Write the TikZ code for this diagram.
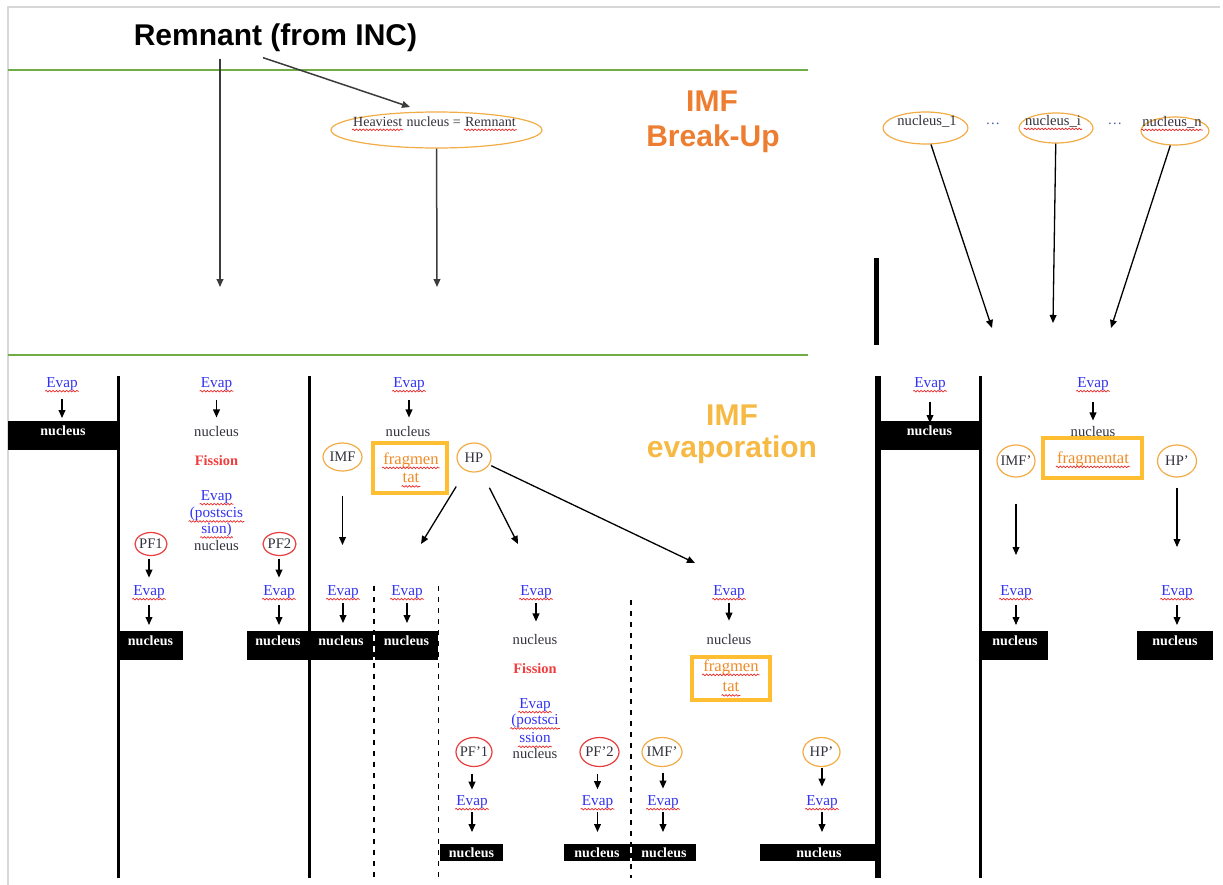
\documentclass[tikz,border=0pt]{standalone}
\usepackage{fontspec}
\setmainfont{Liberation Serif}
\newfontfamily\headfont{Liberation Sans}
\usetikzlibrary{arrows.meta,shapes.geometric,decorations.pathmorphing,shadows}
\definecolor{framec}{RGB}{215,215,215}
\definecolor{grn}{RGB}{112,173,71}
\definecolor{orangeA}{RGB}{237,125,49}
\definecolor{goldA}{RGB}{245,185,68}
\definecolor{ellor}{RGB}{242,172,70}
\definecolor{ellred}{RGB}{232,62,62}
\definecolor{evblue}{RGB}{50,50,240}
\definecolor{sqred}{RGB}{235,40,40}
\definecolor{fisred}{RGB}{240,60,60}
\definecolor{txt}{RGB}{50,50,60}
\definecolor{fraggold}{RGB}{255,190,50}
\definecolor{fragtxt}{RGB}{240,140,40}
\definecolor{dotblue}{RGB}{70,90,160}
\definecolor{arrgray}{RGB}{60,60,60}
\tikzset{
  sm/.style={font=\fontsize{7.3}{8.6}\selectfont, inner sep=0.4pt, text=txt},
  wavyline/.style={draw=sqred, line width=0.35pt, decorate, decoration={snake, amplitude=0.4pt, segment length=1.7pt}},
  wavy/.style={append after command={([yshift=-1.9pt]\tikzlastnode.base west) edge[wavyline] ([yshift=-1.9pt]\tikzlastnode.base east)}},
  ev/.style={sm, text=evblue, font=\fontsize{7.6}{8.6}\selectfont, wavy},
  nuc/.style={sm},
  fis/.style={sm, text=fisred, font=\fontsize{7.2}{8.6}\selectfont\bfseries},
  nbox/.style={fill=black, text=white, anchor=north, inner xsep=0pt, inner ysep=1pt, text height=5.8pt, text depth=6.7pt, font=\fontsize{7}{8}\selectfont\bfseries},
  nboxs/.style={nbox, text height=5.3pt, text depth=1.2pt},
  oell/.style={ellipse, draw=ellor, line width=0.6pt, sm, inner sep=-1.2pt},
  rell/.style={ellipse, draw=ellred, line width=0.6pt, sm, inner sep=-1.2pt},
  fragbox/.style={draw=fraggold, line width=2pt, fill=white, drop shadow={shadow xshift=0.7pt, shadow yshift=-0.7pt, opacity=0.3}, inner sep=0pt},
  fragt/.style={sm, text=fragtxt, font=\fontsize{8.3}{9}\selectfont, wavy},
  title/.style={font=\headfont\bfseries\fontsize{15}{18}\selectfont, inner sep=0pt, anchor=base},
  arr/.style={-{Triangle[length=4pt,width=3.4pt]}, line width=0.65pt, draw=black},
  garr/.style={arr, draw=arrgray, line width=0.75pt},
  vbar/.style={line width=1.5pt, draw=black},
  dline/.style={line width=0.6pt, dash pattern=on 2.5pt off 3pt},
}
\begin{document}
\begin{tikzpicture}[x=0.5pt,y=-0.5pt]
\useasboundingbox (0,0) rectangle (1223,885);
\draw[framec, line width=0.6pt] (8,885) -- (8,7) -- (1220,7);
\draw[grn, line width=0.8pt] (8,70) -- (808,70);
\draw[grn, line width=0.8pt] (8,355) -- (808,355);

% titles
\node[title] (rem) at (275.5,45) {Remnant (from INC)};
\node[title, text=orangeA] (bu1) at (712,111) {IMF};
\node[title, text=orangeA] (bu2) at (713,146) {Break-Up};
\node[title, text=goldA] (ev1) at (732,425) {IMF};
\node[title, text=goldA] (ev2) at (732,457) {evaporation};

% heaviest nucleus
\node[ellipse, draw=ellor, line width=0.6pt, minimum width=105.5pt, minimum height=18pt, inner sep=0pt] (hn) at (436.5,130) {};
\node[sm, anchor=base west, font=\fontsize{7}{8}\selectfont, wavy] (hn1) at (352,126) {Heaviest};
\node[sm, anchor=base west, font=\fontsize{7}{8}\selectfont, inner xsep=1.4pt] (hn2) at (hn1.base east) {nucleus =};
\node[sm, anchor=base west, font=\fontsize{7}{8}\selectfont, wavy] (hn3) at (hn2.base east) {Remnant};
\coordinate (r1end) at (220,287);
\coordinate (hnin) at (410,107);
\coordinate (hnend) at (437,287);
\draw[garr] ([xshift=-27.75pt,yshift=-3.5pt]rem.south) -- (r1end);
\draw[garr] ([xshift=-6.25pt,yshift=-3pt]rem.south) -- (hnin);
\draw[garr] (hn) -- (hnend);

% right top ellipses
\node[oell, minimum width=42.5pt, minimum height=16pt] (n1) at (925.5,128) {};
\node[sm] (n1t) at (927,121) {nucleus\_1};
\node[oell, minimum width=37pt, minimum height=15pt] (ni) at (1056,128) {};
\node[sm, wavy] (nit) at (1053,121) {nucleus\_i};
\node[oell, minimum width=34pt, minimum height=14pt] (nn) at (1175,131) {};
\node[sm, wavy] (nnt) at (1172,122) {nucleus\_n};
\node[sm, text=dotblue] (d1) at (993,124) {\dots};
\node[sm, text=dotblue] (d2) at (1115,124) {\dots};
\coordinate (m1) at (992,328);
\coordinate (mi) at (1053,323);
\coordinate (mn) at (1111,328);
\draw[arr] (n1) -- (m1);
\draw[arr] (ni) -- (mi);
\draw[arr] (nn) -- (mn);
\draw[line width=2.6pt] (876.5,258) -- (876.5,345);

% ---- section 1
\node[ev] (e1) at (62,384) {Evap};
\node[nbox, minimum width=55pt] (b1) at (63,421) {nucleus};
\draw[arr, shorten <=3.8pt, shorten >=1.5pt] (e1) -- (e1 |- b1.north);

% ---- section 2
\node[ev] (e2) at (216.5,384) {Evap};
\node[nuc] (u2) at (216.5,431) {nucleus};
\draw[arr, shorten <=4pt, shorten >=3.6pt] (e2) -- (u2);
\node[fis] (f2) at (216.5,461) {Fission};
\node[ev] (e2b) at (216.5,497) {Evap};
\node[ev] (p2a) at (216.5,514) {(postscis};
\node[ev] (p2b) at (216.5,530) {sion)};
\node[nuc] (u2b) at (216.5,545) {nucleus};
\node[rell, minimum width=16pt, minimum height=11.5pt] (pf1) at (151,544) {PF1};
\node[rell, minimum width=16.5pt, minimum height=11.5pt] (pf2) at (279.5,544) {PF2};
\node[ev] (ep1) at (149,592) {Evap};
\node[ev] (ep2) at (279,592) {Evap};
\draw[arr, shorten <=1.2pt, shorten >=3.3pt] (pf1.south -| ep1) -- (ep1);
\draw[arr, shorten <=1.2pt, shorten >=3.3pt] (pf2.south -| ep2) -- (ep2);
\node[nbox, minimum width=32.5pt] (bp1) at (150.5,631) {nucleus};
\node[nbox, minimum width=31pt] (bp2) at (278,631) {nucleus};
\draw[arr, shorten <=2.7pt, shorten >=3pt] (ep1) -- (ep1 |- bp1.north);
\draw[arr, shorten <=2.7pt, shorten >=3pt] (ep2) -- (ep2 |- bp2.north);

% ---- section 3
\node[ev] (e3) at (409,384) {Evap};
\node[nuc] (u3) at (408,431) {nucleus};
\draw[arr, shorten <=4pt, shorten >=3.6pt] (e3) -- (e3 |- u3.north);
\node[oell, minimum width=19.5pt, minimum height=14pt] (imf) at (342.5,457) {IMF};
\node[fragbox, minimum width=37pt, minimum height=25pt] (fr1) at (410,468) {};
\node[fragt] (fr1a) at (411,460) {fragmen};
\node[fragt] (fr1b) at (411,478) {tat};
\node[oell, minimum width=17pt, minimum height=14.5pt] (hp) at (474,457.5) {HP};
\coordinate (imfend) at (342.5,545);
\coordinate (hpa) at (421,544);
\coordinate (hpb) at (518,544);
\coordinate (hpc) at (695,563);
\draw[arr, shorten <=12pt] (imf) -- (imfend);
\draw[arr, shorten <=9.2pt] (hp) -- (hpa);
\draw[arr, shorten <=9.2pt] (hp) -- (hpb);
\draw[arr, shorten <=1pt] (hp) -- (hpc);

\node[ev] (e3a) at (343,592) {Evap};
\node[nbox, minimum width=32pt] (b3a) at (341,631) {nucleus};
\node[ev] (e3b) at (407,592) {Evap};
\node[nbox, minimum width=31.5pt] (b3b) at (406.5,631) {nucleus};
\draw[arr, shorten <=1.8pt, shorten >=4pt] (e3a) -- (e3a |- b3a.north);
\draw[arr, shorten <=1.8pt, shorten >=4pt] (e3b) -- (e3b |- b3b.north);

\node[ev] (e3c) at (536,592) {Evap};
\node[nuc] (u3c) at (535,639) {nucleus};
\draw[arr, shorten <=1.8pt, shorten >=5.6pt] (e3c) -- (e3c |- u3c.north);
\node[fis] (f3c) at (535,669) {Fission};
\node[ev] (e3c2) at (535,705) {Evap};
\node[ev] (p3a) at (535,721) {(postsci};
\node[ev] (p3b) at (535,738) {ssion};
\node[nuc] (u3c2) at (535,753) {nucleus};
\node[rell, minimum width=18pt, minimum height=14.5pt] (pfp1) at (474,752) {PF’1};
\node[rell, minimum width=19.5pt, minimum height=14.5pt] (pfp2) at (599.5,752) {PF’2};
\node[ev] (epp1) at (472,802) {Evap};
\node[ev] (epp2) at (597.5,802) {Evap};
\draw[arr, shorten <=3.2pt, shorten >=2.3pt] (pfp1.south -| epp1) -- (epp1);
\draw[arr, shorten <=3.6pt, shorten >=2.5pt] (pfp2.south -| epp2) -- (epp2);
\node[nboxs, minimum width=31.5pt] (bpp1) at (471.5,844) {nucleus};
\node[nboxs, minimum width=33pt] (bpp2) at (597,844) {nucleus};
\draw[arr, shorten <=1.3pt, shorten >=6pt] (epp1) -- (epp1 |- bpp1.north);
\draw[arr, shorten <=1.3pt, shorten >=6pt] (epp2) -- (epp2 |- bpp2.north);

\node[ev] (e3d) at (729,592) {Evap};
\node[nuc] (u3d) at (729,639) {nucleus};
\draw[arr, shorten <=1.5pt, shorten >=6pt] (e3d) -- (u3d);
\node[fragbox, minimum width=39pt, minimum height=21.5pt] (fr2) at (731,678.5) {};
\node[fragt] (fr2a) at (731,667) {fragmen};
\node[fragt] (fr2b) at (731,687) {tat};
\node[oell, minimum width=20pt, minimum height=14.5pt] (imfp) at (662,752) {IMF’};
\node[oell, minimum width=18.5pt, minimum height=14.5pt] (hpp) at (821.5,752) {HP’};
\node[ev] (ei) at (663,802) {Evap};
\node[ev] (eh) at (822,802) {Evap};
\draw[arr, shorten <=2.8pt, shorten >=2.8pt] (imfp.south -| ei) -- (ei);
\draw[arr, shorten <=0.3pt, shorten >=3.8pt] (hpp.south -| eh) -- (eh);
\node[nboxs, minimum width=32pt] (bi) at (664,844) {nucleus};
\node[nboxs, minimum width=59pt] (bh) at (819,844) {nucleus};
\draw[arr, shorten <=1.3pt, shorten >=6pt] (ei) -- (ei |- bi.north);
\draw[arr, shorten <=1.3pt, shorten >=6pt] (eh) -- (eh |- bh.north);

% ---- section 4
\node[ev] (e4) at (930,384) {Evap};
\node[nbox, minimum width=51pt] (b4) at (929.5,421) {nucleus};
\draw[arr, shorten <=5pt, shorten >=-1pt] (e4) -- (e4 |- b4.north);

% ---- section 5
\node[ev] (e5) at (1093,384) {Evap};
\node[nuc] (u5) at (1093,431) {nucleus};
\draw[arr, shorten <=5pt, shorten >=2.1pt] (e5) -- (u5);
\node[oell, minimum width=19pt, minimum height=16pt] (imfq) at (1016,461) {IMF’};
\node[fragbox, minimum width=49.5pt, minimum height=20pt] (fr3) at (1092.5,458) {};
\node[fragt] (fr3a) at (1093,459) {fragmentat};
\node[oell, minimum width=19.5pt, minimum height=16pt] (hpq) at (1177,461) {HP’};
\coordinate (imfqend) at (1016,555);
\coordinate (hpqend) at (1177,547);
\draw[arr, shorten <=13pt] (imfq) -- (imfqend);
\draw[arr, shorten <=5pt] (hpq) -- (hpqend);
\node[ev] (e5a) at (1016,592) {Evap};
\node[ev] (e5b) at (1177,592) {Evap};
\node[nbox, minimum width=33pt] (b5a) at (1015,631) {nucleus};
\node[nbox, minimum width=38pt] (b5b) at (1175,631) {nucleus};
\draw[arr, shorten <=2.7pt, shorten >=3pt] (e5a) -- (e5a |- b5a.north);
\draw[arr, shorten <=2.7pt, shorten >=3pt] (e5b) -- (e5b |- b5b.north);

% ---- separators
\foreach \x in {118,309,980} \draw[vbar] (\x,376) -- (\x,878);
\draw[line width=2.6pt] (878,376) -- (878,878);
\draw[dline] (374,586) -- (374,878);
\draw[dline, line width=0.8pt] (438.5,586) -- (438.5,878);
\draw[dline] (631,600) -- (631,878);
\end{tikzpicture}
\end{document}
